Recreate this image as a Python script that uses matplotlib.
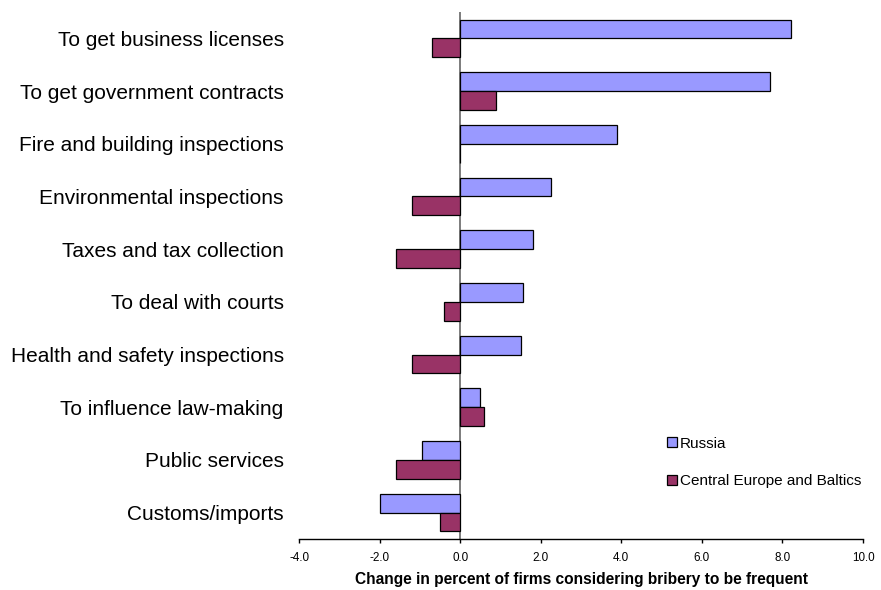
import matplotlib.pyplot as plt
import numpy as np

plt.rcParams['font.family'] = ['Liberation Sans', 'DejaVu Sans']

categories = [
    "To get business licenses",
    "To get government contracts",
    "Fire and building inspections",
    "Environmental inspections",
    "Taxes and tax collection",
    "To deal with courts",
    "Health and safety inspections",
    "To influence law-making",
    "Public services",
    "Customs/imports",
]
russia = [8.2, 7.7, 3.9, 2.25, 1.8, 1.55, 1.5, 0.5, -0.95, -2.0]
central_europe = [-0.7, 0.9, 0.0, -1.2, -1.6, -0.4, -1.2, 0.6, -1.6, -0.5]
xticks = [-4.0, -2.0, 0.0, 2.0, 4.0, 6.0, 8.0, 10.0]

fig = plt.figure(figsize=(8.81, 5.90), dpi=100)
ax = fig.add_axes([0.3394, 0.0864, 0.6402, 0.8933])

y = np.arange(len(categories))
h = 0.357
ax.barh(y - h / 2, russia, height=h, color='#9999FF', edgecolor='black',
        linewidth=0.9, label='Russia')
ax.barh(y + h / 2, central_europe, height=h, color='#993366', edgecolor='black',
        linewidth=0.9, label='Central Europe and Baltics')

ax.axvline(0, color='#666666', linewidth=1.2, zorder=0)

ax.set_ylim(len(categories) - 0.5, -0.5)
ax.set_xlim(-4, 10)
ax.set_yticks(y)
ax.set_yticklabels(categories, fontsize=15)
ax.tick_params(axis='y', length=0, pad=11)
ax.set_xticks(xticks)
ax.set_xticklabels([f"{v:.1f}" for v in xticks], fontsize=8.4)
ax.tick_params(axis='x', direction='out', length=3, width=1, pad=6)

for side in ['top', 'right', 'left']:
    ax.spines[side].set_visible(False)
ax.spines['bottom'].set_linewidth(1)

ax.set_xlabel("Change in percent of firms considering bribery to be frequent",
              fontsize=11.2, fontweight='bold', labelpad=6)

ax.legend(loc='lower left', bbox_to_anchor=(0.628, 0.07), frameon=False,
          fontsize=11, handlelength=0.65, handleheight=0.65, handletextpad=0.2,
          labelspacing=1.55)

fig.savefig('out.png', dpi=100)
